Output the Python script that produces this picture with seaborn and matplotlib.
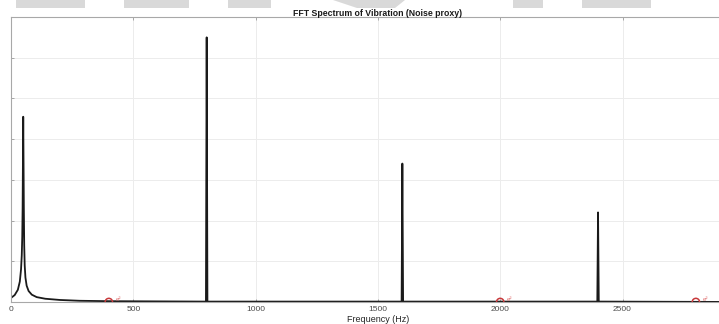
import matplotlib
matplotlib.use("Agg")
import matplotlib.pyplot as plt
from matplotlib.patches import Rectangle, Polygon
import seaborn as sns

# Spectrum samples (frequency in Hz, magnitude in arbitrary units)
freq_hz = [0, 15, 28, 36, 41, 44, 46, 47.5, 48.5, 50, 51.5, 52.5, 54, 56, 59, 64, 72, 85, 105,
           140, 200, 280, 400,
           797, 800, 803,
           1597, 1600, 1603,
           2397, 2400, 2403,
           3000]
magnitude = [0.1, 0.17, 0.3, 0.5, 0.8, 1.15, 1.6, 2.3, 3.2, 4.55, 3.2, 2.3, 1.4, 0.9, 0.6, 0.4, 0.27, 0.18, 0.12,
             0.08, 0.05, 0.03, 0.02,
             0.01, 6.5, 0.01,
             0.01, 3.4, 0.01,
             0.01, 2.2, 0.01,
             0.0]

# Marked reference frequencies
marker_hz = [400, 2000, 2800]
marker_mag = [0.0, 0.0, 0.0]
marker_text = ["e²", "e²", "e²"]

x_ticks = [0, 500, 1000, 1500, 2000, 2500]
y_ticks = [0, 1, 2, 3, 4, 5, 6, 7]

sns.set_theme(style="whitegrid")
plt.rcParams["font.family"] = ["Liberation Sans", "DejaVu Sans"]

W, H = 719, 324
fig = plt.figure(figsize=(W / 100, H / 100), dpi=100)
fig.patch.set_facecolor("white")

# Toolbar-like gray blocks along the top edge
for x0, x1 in [(16, 85), (124, 189), (228, 271), (513, 543), (582, 651)]:
    fig.patches.append(Rectangle((x0 / W, 1 - 8 / H), (x1 - x0) / W, 8 / H,
                                 transform=fig.transFigure, facecolor="#d9d9d9",
                                 edgecolor="none", zorder=0))
fig.patches.append(Polygon([(333 / W, 1.0), (405 / W, 1.0), (395 / W, 1 - 8 / H), (357 / W, 1 - 8 / H)],
                           closed=True, transform=fig.transFigure, facecolor="#d9d9d9",
                           edgecolor="none", zorder=0))

ax = fig.add_axes([11 / W, 22 / H, 733.8 / W, 285 / H])
ax.set_facecolor("white")

sns.lineplot(x=freq_hz, y=magnitude, ax=ax, color="#1a1a1a", linewidth=1.3,
             estimator=None, sort=False)
sns.scatterplot(x=marker_hz, y=marker_mag, ax=ax, marker="o", s=28,
                facecolor="none", edgecolor="#c8393b", linewidth=1.1, zorder=5)
for fx, fy, t in zip(marker_hz, marker_mag, marker_text):
    ax.annotate(t, (fx, fy), xytext=(5, 1.5), textcoords="offset points",
                fontsize=4.5, color="#e07070", va="center", ha="left")

ax.set_xlim(0, 3000)
ax.set_ylim(0, 7)
ax.set_xticks(x_ticks)
ax.set_yticks(y_ticks)
ax.set_yticklabels([])
ax.grid(True, color="#ececec", linewidth=0.7)
ax.tick_params(axis="both", direction="in", length=2.5, width=0.6, color="#9a9a9a",
               top=True, left=True, bottom=True, labelsize=6, labelcolor="#4a4a4a", pad=3)
for s in ax.spines.values():
    s.set_visible(True)
    s.set_color("#a8a8a8")
    s.set_linewidth(0.8)

ax.set_xlabel("Frequency (Hz)", fontsize=6.5, color="#262626", labelpad=1)
ax.set_ylabel("")
ax.set_title("FFT Spectrum of Vibration (Noise proxy)", fontsize=6.3, fontweight="bold",
             color="#1a1a1a", pad=1)

fig.savefig("out.png", dpi=100)
